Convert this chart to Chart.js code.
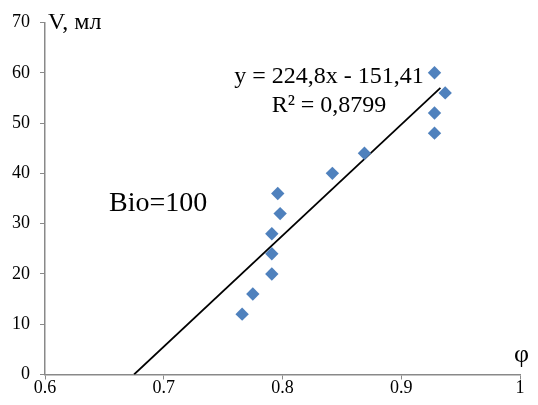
<!DOCTYPE html>
<html>
<head>
<meta charset="utf-8">
<script src="https://cdn.jsdelivr.net/npm/chart.js@4.4.1/dist/chart.umd.min.js"></script>
<style>
  html, body { margin:0; padding:0; background:#fff; }
  #chart { display:block; }
</style>
</head>
<body>
<canvas id="chart" width="538" height="405"></canvas>
<script>
/* ===== Data ===== */
const phiValues = [0.766, 0.775, 0.791, 0.791, 0.791, 0.798, 0.796, 0.842, 0.869, 0.928, 0.928, 0.937, 0.928];
const volValues = [12, 16, 20, 24, 28, 32, 36, 40, 44, 48, 52, 56, 60];
// trend line ends as drawn
const trendPhi = [0.675, 0.933];
const trendVol = [0, 57];
const xTicks = [0.6, 0.7, 0.8, 0.9, 1];
const yTicks = [0, 10, 20, 30, 40, 50, 60, 70];
const eqLines = ['y = 224,8x - 151,41', 'R² = 0,8799'];

const SERIF = "'Liberation Serif', 'Times New Roman', serif";
const AXIS = '#898989';

/* ===== Labels drawn on top ===== */
const labelsPlugin = {
  id: 'labels',
  afterDraw(chart){
    const ctx = chart.ctx;
    ctx.save();
    ctx.fillStyle = '#000';
    ctx.textBaseline = 'alphabetic';
    ctx.font = '24px ' + SERIF;
    ctx.textAlign = 'left';
    ctx.fillText('V, мл', 48, 29);
    ctx.textAlign = 'center';
    ctx.fillText(eqLines[0], 329, 83);
    ctx.fillText(eqLines[1], 329, 111.5);
    ctx.font = '26px ' + SERIF;
    ctx.fillText('φ', 521.5, 362);
    ctx.font = '28px ' + SERIF;
    ctx.textAlign = 'left';
    ctx.fillText('Bio=100', 109, 211);
    ctx.restore();
  }
};

new Chart(document.getElementById('chart'), {
  type: 'scatter',
  data: {
    datasets: [
      {
        label: 'trend',
        data: trendPhi.map((x,i)=>({x, y: trendVol[i]})),
        showLine: true,
        borderColor: '#000',
        borderWidth: 1.75,
        pointRadius: 0,
        fill: false,
        order: 2
      },
      {
        label: 'V',
        data: phiValues.map((x,i)=>({x, y: volValues[i]})),
        pointStyle: 'rectRot',
        pointRadius: 6.7,
        pointBackgroundColor: '#4F81BD',
        pointBorderColor: '#4F81BD',
        pointBorderWidth: 0,
        order: 1
      }
    ]
  },
  options: {
    responsive: false,
    animation: false,
    layout: { padding: { top: 22.5, right: 18, left: 0, bottom: 0 } },
    plugins: { legend: { display:false }, tooltip: { enabled:false } },
    scales: {
      x: {
        type: 'linear', min: 0.6, max: 1,
        afterBuildTicks: s => { s.ticks = xTicks.map(v=>({value:v})); },
        afterFit: s => { s.height = 30.5; },
        ticks: {
          padding: 0,
          color: '#000',
          font: { family: SERIF, size: 18, lineHeight: 1 },
          callback: v => String(+v.toFixed(1))
        },
        grid: { drawOnChartArea:false, drawTicks:true, tickLength:5, color: AXIS, lineWidth:1 },
        border: { display:true, color: AXIS, width: 1.5 }
      },
      y: {
        type: 'linear', min: 0, max: 70,
        afterBuildTicks: s => { s.ticks = yTicks.map(v=>({value:v})); },
        afterFit: s => { s.width = 45; },
        ticks: {
          padding: 10,
          color: '#000',
          font: { family: SERIF, size: 18, lineHeight: 1 }
        },
        grid: { drawOnChartArea:false, drawTicks:true, tickLength:5, color: AXIS, lineWidth:1 },
        border: { display:true, color: AXIS, width: 1.5 }
      }
    }
  },
  plugins: [labelsPlugin]
});
</script>
</body>
</html>
